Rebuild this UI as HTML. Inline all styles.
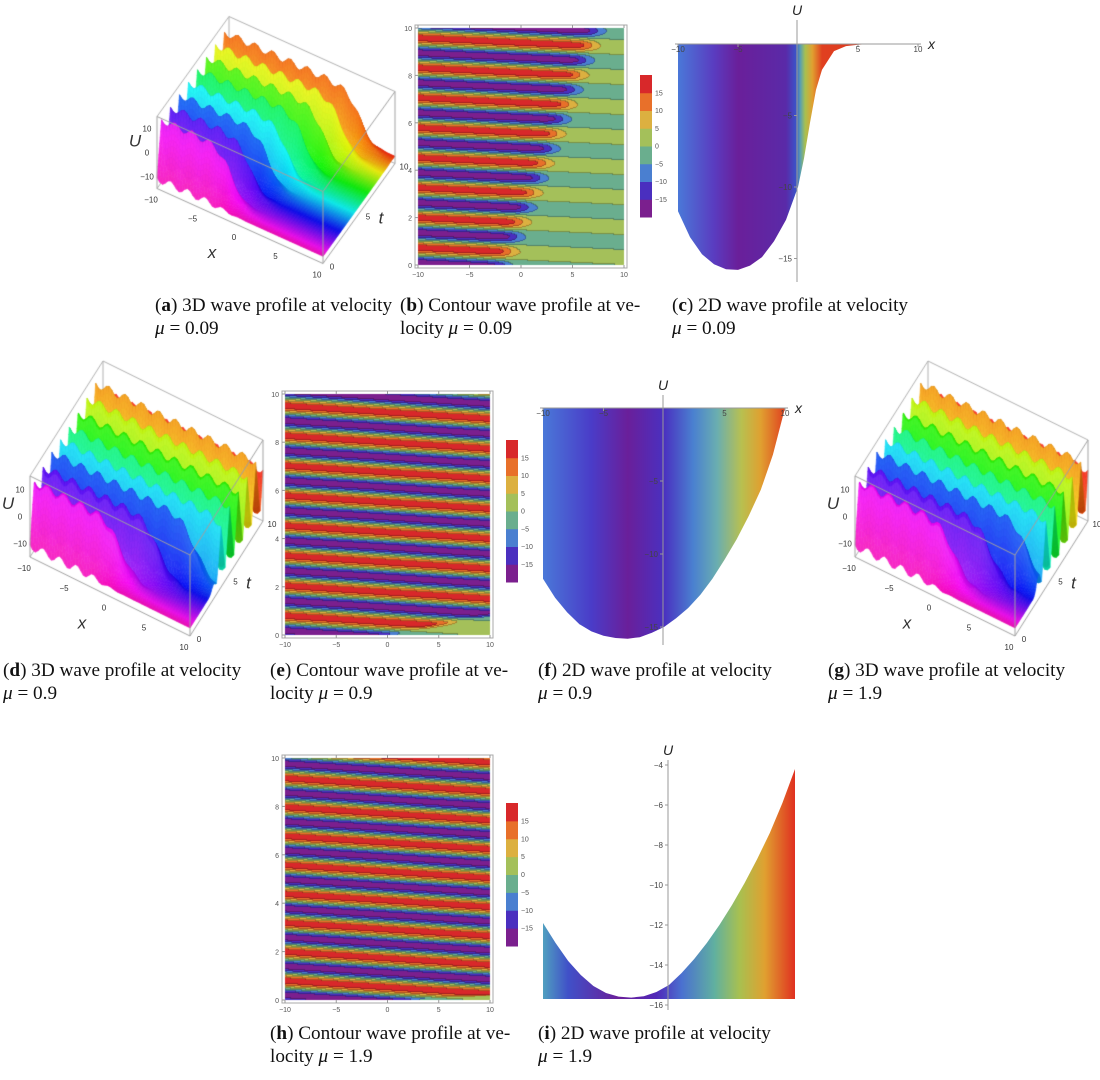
<!DOCTYPE html>
<html><head><meta charset="utf-8">
<style>
html,body{margin:0;padding:0;background:#fff;}
#wrap{position:relative;width:1100px;height:1080px;overflow:hidden;}
canvas,svg{position:absolute;left:0;top:0;}
.cap{position:absolute;font-family:"Liberation Serif",serif;font-size:19.2px;color:#111;line-height:23px;white-space:nowrap;}
.cap b{font-weight:bold;}
</style></head><body>
<div id="wrap">
<canvas id="cv" width="1100" height="1080"></canvas>
<svg id="sv" width="1100" height="1080" xmlns="http://www.w3.org/2000/svg"></svg>

<div class="cap" style="left:155px;top:294px">(<b>a</b>) 3D wave profile at velocity<br><i>μ</i> = 0.09</div>
<div class="cap" style="left:400px;top:294px">(<b>b</b>) Contour wave profile at ve-<br>locity <i>μ</i> = 0.09</div>
<div class="cap" style="left:672px;top:294px">(<b>c</b>) 2D wave profile at velocity<br><i>μ</i> = 0.09</div>
<div class="cap" style="left:3px;top:659px">(<b>d</b>) 3D wave profile at velocity<br><i>μ</i> = 0.9</div>
<div class="cap" style="left:270px;top:659px">(<b>e</b>) Contour wave profile at ve-<br>locity <i>μ</i> = 0.9</div>
<div class="cap" style="left:538px;top:659px">(<b>f</b>) 2D wave profile at velocity<br><i>μ</i> = 0.9</div>
<div class="cap" style="left:828px;top:659px">(<b>g</b>) 3D wave profile at velocity<br><i>μ</i> = 1.9</div>
<div class="cap" style="left:270px;top:1022px">(<b>h</b>) Contour wave profile at ve-<br>locity <i>μ</i> = 1.9</div>
<div class="cap" style="left:538px;top:1022px">(<b>i</b>) 2D wave profile at velocity<br><i>μ</i> = 1.9</div>
</div>
<script>
// ---- data ----
const muValues = [0.09, 0.9, 1.9];
const contourPeriod = [1.27, 1.25, 1.2];
const contourSlope = [0.02, 0.027, 0.027];
const contourEdgeStart = [-1.5, 0.5, 3];
const contourEdgeRate = [0.9, 12, 40];
const levelTicks = [15, 10, 5, 0, -5, -10, -15];
const levelColors = ["#7b1f8e","#4a2fbf","#4a7fd0","#6aae8e","#a4c05a","#dcb040","#e8702a","#d8282a"];
const xTicks = [-10, -5, 0, 5, 10];
const tTicks = [0, 2, 4, 6, 8, 10];
// 2D curves
const cX = [-10,-9,-8,-7,-6,-5,-4,-3,-2,-1,0,0.5,1,1.5,2,3,4,5,6,8,10];
const cU = [-11.7,-13.5,-14.7,-15.4,-15.75,-15.8,-15.5,-14.9,-13.8,-12.3,-10,-8,-5.5,-3.2,-1.8,-0.5,-0.15,-0.05,0,0,0];
const fX = [-10,-9,-8,-7,-6,-5,-4,-3,-2,-1,0,1,2,3,4,5,6,7,8,9,10];
const fU = [-11.7,-13.0,-14.0,-14.8,-15.3,-15.6,-15.75,-15.8,-15.7,-15.4,-15.0,-14.4,-13.7,-12.8,-11.7,-10.4,-9.0,-7.4,-5.6,-3.2,0];
const iX = [-10,-9,-8,-7,-6,-5,-4,-3,-2,-1,0,1,2,3,4,5,6,7,8,9,10];
const iU = [-11.9,-12.9,-13.8,-14.5,-15.05,-15.4,-15.58,-15.63,-15.56,-15.35,-15.0,-14.4,-13.7,-12.9,-12.0,-11.0,-9.9,-8.7,-7.4,-5.9,-4.2];

const cv = document.getElementById('cv');
const ctx = cv.getContext('2d');
const sv = document.getElementById('sv');
const NS = "http://www.w3.org/2000/svg";
function mk(tag, attrs, parent, text){
  const e = document.createElementNS(NS, tag);
  for (const k in attrs) e.setAttribute(k, attrs[k]);
  if (text !== undefined) e.textContent = text;
  (parent || sv).appendChild(e);
  return e;
}
function levelIndex(u){ if(u<-15)return 0; if(u<-10)return 1; if(u<-5)return 2; if(u<0)return 3; if(u<5)return 4; if(u<10)return 5; if(u<15)return 6; return 7; }
function hex(c){ return [parseInt(c.substr(1,2),16),parseInt(c.substr(3,2),16),parseInt(c.substr(5,2),16)]; }
const levelRGB = levelColors.map(hex);

// ---- contour plots ----
function contour(k, x1, y1, x2, y2, cbx, cby1, cby2, name){
  const W = x2-x1, H = y2-y1;
  const img = ctx.createImageData(W, H);
  const lv = new Int8Array(W*H);
  const per = contourPeriod[k], s = contourSlope[k], e0 = contourEdgeStart[k], er = contourEdgeRate[k];
  for (let j=0;j<H;j++){
    const t = 10 - 10*j/(H-1);
    for (let i=0;i<W;i++){
      const x = -10 + 20*i/(W-1);
      const ph = 2*Math.PI*(t + s*x - 0.5)/per;
      const edge = e0 + er*t;
      const sg = 1/(1+Math.exp(-(edge - x)/0.5));
      const A = 3.2 + 15*sg;
      lv[j*W+i] = levelIndex(A*Math.cos(ph));
    }
  }
  for (let j=0;j<H;j++) for (let i=0;i<W;i++){
    const L = lv[j*W+i];
    let c = levelRGB[L];
    const bd = (i<W-1 && lv[j*W+i+1]!==L) || (j<H-1 && lv[(j+1)*W+i]!==L);
    const p = (j*W+i)*4;
    const m = bd ? 0.75 : 1;
    img.data[p]=c[0]*m; img.data[p+1]=c[1]*m; img.data[p+2]=c[2]*m;
    img.data[p+3]=255;
  }
  ctx.putImageData(img, x1, y1);
  const g = mk('g', {});
  
  
  mk('rect', {x:x1-3, y:y1-3, width:W+6, height:H+6, fill:'none', stroke:'#aaa', 'stroke-width':1}, g);
  xTicks.forEach(v=>{
    const px = x1 + (v+10)/20*W;
    const tl = mk('text', {x:px, y:y2+12, 'font-size':7, fill:'#555', 'text-anchor':'middle', 'font-family':'Liberation Sans, sans-serif'}, g, v===0?'0':String(v).replace('-','−'));
    
    
    mk('line',{x1:px,y1:y2+3,x2:px,y2:y2,stroke:'#999'},g);
    mk('line',{x1:px,y1:y1-3,x2:px,y2:y1,stroke:'#999'},g);
  });
  tTicks.forEach(v=>{
    const py = y2 - v/10*H;
    const tl = mk('text', {x:x1-6, y:py+3, 'font-size':7, fill:'#555', 'text-anchor':'end', 'font-family':'Liberation Sans, sans-serif'}, g, String(v));
    
    
    mk('line',{x1:x1-3,y1:py,x2:x1,y2:py,stroke:'#999'},g);
  });
  const cb = mk('g', {}, sv);
  
  
  const n = levelColors.length, bh = (cby2-cby1)/n;
  for (let q=0;q<n;q++){
    const r = mk('rect',{x:cbx, y:cby2-(q+1)*bh, width:12, height:bh+0.5, fill:levelColors[q]}, cb);
    
    
  }
  levelTicks.forEach(v=>{
    const py = cby2 - (levelIndex(v))*bh;
    const tl = mk('text',{x:cbx+15, y:py+2.5, 'font-size':7, fill:'#555','font-family':'Liberation Sans, sans-serif'}, cb, String(v).replace('-','−'));
    
    
  });
}
contour(0, 418, 28, 624, 265, 640, 75, 217, 'contour-plot-b');
contour(1, 285, 394, 490, 635, 506, 440, 582, 'contour-plot-e');
contour(2, 285, 758, 490, 1000, 506, 803, 946, 'contour-plot-h');

// ---- 3D surfaces ----
function surf3D(O, ex, et, ez, edge0, edgeR, per, name){
  const P = (x,t,z)=>[O[0]+x*ex[0]+t*et[0]+z*ez[0], O[1]+x*ex[1]+t*et[1]+z*ez[1]];
  const f = (x,t)=>{
    const sg = 1/(1+Math.exp(-((edge0+edgeR*t) - x)/0.8));
    let saw = ((t/per)%1);
    let z = -12 + sg*(12 + 12*(1-2*Math.abs(saw-0.5)*2)*0.9 + 1.5*Math.cos(3*x));
    return Math.max(-15, Math.min(14, z));
  };
  ctx.strokeStyle = '#b0b0b0'; ctx.lineWidth = 1;
  const box = (a,b)=>{ const p=P(...a), q=P(...b); ctx.beginPath(); ctx.moveTo(p[0],p[1]); ctx.lineTo(q[0],q[1]); ctx.stroke(); };
  box([-10,10,-15],[-10,10,15]); box([-10,10,15],[10,10,15]); box([-10,10,15],[-10,0,15]);
  box([-10,0,-15],[-10,10,-15]); box([-10,10,-15],[10,10,-15]);
  const nx=60, nt=160, quads=[];
  for (let i=0;i<nx;i++) for (let j=0;j<nt;j++){
    const xa=-10+20*i/nx, xb=-10+20*(i+1)/nx, ta=10*j/nt, tb=10*(j+1)/nt;
    const za=f(xa,ta), zb=f(xb,ta), zc=f(xb,tb), zd=f(xa,tb);
    const key = ex[1]*(xa+xb)/2 + et[1]*(ta+tb)/2;
    quads.push([key,xa,xb,ta,tb,za,zb,zc,zd]);
  }
  quads.sort((a,b)=>a[0]-b[0]);
  for (const q of quads){
    const [k,xa,xb,ta,tb,za,zb,zc,zd]=q;
    const p1=P(xa,ta,za),p2=P(xb,ta,zb),p3=P(xb,tb,zc),p4=P(xa,tb,zd);
    const tm=(ta+tb)/2;
    const hue = 315 - 310*tm/10;
    const slope = ((zc+zd)-(za+zb))/2/(tb-ta);
    let L = 47 + Math.max(-20, Math.min(12, slope*0.25));
    ctx.fillStyle = `hsl(${hue},92%,${L}%)`;
    ctx.beginPath(); ctx.moveTo(p1[0],p1[1]); ctx.lineTo(p2[0],p2[1]); ctx.lineTo(p3[0],p3[1]); ctx.lineTo(p4[0],p4[1]); ctx.closePath();
    ctx.fill(); ctx.strokeStyle=ctx.fillStyle; ctx.lineWidth=0.6; ctx.stroke();
  }
  ctx.strokeStyle = '#a0a0a0'; ctx.lineWidth = 1;
  box([-10,0,-15],[-10,0,15]); box([-10,0,15],[10,0,15]); box([10,0,15],[10,10,15]); box([10,10,15],[10,10,-15]);
  box([-10,0,-15],[10,0,-15]); box([10,0,-15],[10,0,15]); box([10,0,-15],[10,10,-15]);
  const g = mk('g', {});
  
  
  const T=(x,y,s,txt,sz,it)=>{ const e=mk('text',{x:x,y:y,'font-size':sz,fill:'#333','font-family':'Liberation Sans, sans-serif','text-anchor':'middle','font-style':it?'italic':'normal'},g,txt);
      };
  xTicks.forEach(v=>{ const p=P(v,0,-15); T(p[0]-6,p[1]+14,'x-tick-label',String(v).replace('-','−'),8); });
  [0,5,10].forEach(v=>{ const p=P(10,v,-15); T(p[0]+9,p[1]+6,'t-tick-label',String(v),8); });
  [-10,0,10].forEach(v=>{ const p=P(-10,0,v); T(p[0]-10,p[1]+3,'z-tick-label',String(v).replace('-','−'),8); });
  const px=P(0,0,-15), pt=P(10,5,-15), pu=P(-10,0,5);
  T(px[0]-28,px[1]+32,'x-axis-title','x',17,true);
  T(pt[0]+22,pt[1]+10,'t-axis-title','t',17,true);
  T(pu[0]-22,pu[1]+6,'u-axis-title','U',17,true);
}
surf3D([240,190],[8.3,3.75],[7.2,-10],[0,-2.4],-2,0.9,1.25,'surface-3d-a');
surf3D([110,556],[8,3.95],[7.3,-11.5],[0,-2.7],-1,3,1.2,'surface-3d-d');
surf3D([935,556],[8,3.95],[7.3,-11.5],[0,-2.7],0,3,1.2,'surface-3d-g');

// ---- 2D plots ----
function plot2D(name, X, Uv, xs0, xs1, uScale, u0, u0py, fillTo, clampBase, stops, axisY, vx, vy1, vy2, yTicks, showX){
  const g = mk('g',{});
  
  
  const sx = v=> xs0 + (v+10)/20*(xs1-xs0);
  const sy = u=> u0py + (u0-u)*uScale;
  const gid = name+'-grad';
  const defs = mk('defs',{},g);
  const lg = mk('linearGradient',{id:gid,gradientUnits:'userSpaceOnUse',x1:sx(-10),y1:0,x2:sx(10),y2:0},defs);
  stops.forEach(s=>mk('stop',{offset:s[0],'stop-color':s[1]},lg));
  let d = `M${sx(X[0])},${sy(fillTo)}`;
  X.forEach((v,i)=>{
    let py = sy(Uv[i]);
    if (clampBase) py = Math.min(py, sy(fillTo));
    d += ` L${sx(v).toFixed(1)},${py.toFixed(1)}`; });
  d += ` L${sx(X[X.length-1])},${sy(fillTo)} Z`;
  const area = mk('path',{d:d,fill:`url(#${gid})`},g);
  
  
  if (showX){
    mk('line',{x1:xs0-3,y1:axisY,x2:xs1+3,y2:axisY,stroke:'#999','stroke-width':1},g);
    xTicks.forEach(v=>{ if(v===0)return; const px=sx(v);
      mk('line',{x1:px,y1:axisY,x2:px,y2:axisY+3,stroke:'#999'},g);
      const e=mk('text',{x:px,y:axisY+8,'font-size':8,fill:'#444','text-anchor':'middle','font-family':'Liberation Sans, sans-serif'},g,String(v).replace('-','−'));
        });
    const xl=mk('text',{x:xs1+10,y:axisY+5,'font-size':14,'font-style':'italic',fill:'#222','font-family':'Liberation Sans, sans-serif'},g,'x');
     
  }
  mk('line',{x1:vx,y1:vy1,x2:vx,y2:vy2,stroke:'#999','stroke-width':1},g);
  yTicks.forEach(v=>{ const py=sy(v);
    mk('line',{x1:vx-3,y1:py,x2:vx,y2:py,stroke:'#999'},g);
    const e=mk('text',{x:vx-5,y:py+3,'font-size':8,fill:'#444','text-anchor':'end','font-family':'Liberation Sans, sans-serif'},g,String(v).replace('-','−'));
      });
  const ul=mk('text',{x:vx,y:vy1-5,'font-size':14,'font-style':'italic',fill:'#222','text-anchor':'middle','font-family':'Liberation Sans, sans-serif'},g,'U');
   
}
plot2D('line-plot-c', cX, cU, 678, 918, 14.3, 0, 44, 0, false,
  [[0,'#4a78d8'],[0.15,'#5a3cc0'],[0.25,'#6a1f9a'],[0.45,'#5a2aa8'],[0.49,'#3c50c8'],[0.51,'#5aa0b0'],[0.53,'#a8c050'],[0.56,'#e0a030'],[0.6,'#e04020'],[1,'#d83020']],
  44, 797, 20, 282, [-5,-10,-15], true);
plot2D('line-plot-f', fX, fU, 543, 785, 14.6, 0, 408, 0, false,
  [[0,'#4a78d8'],[0.2,'#4a3cc8'],[0.35,'#6a1f9a'],[0.5,'#4a30c0'],[0.62,'#4a80d0'],[0.72,'#6aaeb0'],[0.82,'#b8c050'],[0.9,'#e0a030'],[1,'#e04020']],
  408, 663, 395, 645, [-5,-10,-15], true);
plot2D('line-plot-i', iX, iU, 543, 795, 20, -4, 765, -15.7, true,
  [[0,'#50a0c0'],[0.1,'#4050c8'],[0.3,'#6a1f9a'],[0.45,'#5028b8'],[0.55,'#4a70d0'],[0.68,'#60b0a0'],[0.78,'#a8c050'],[0.88,'#e0a030'],[1,'#e03020']],
  998, 668, 760, 1010, [-4,-6,-8,-10,-12,-14,-16], false);
</script>
</body></html>
